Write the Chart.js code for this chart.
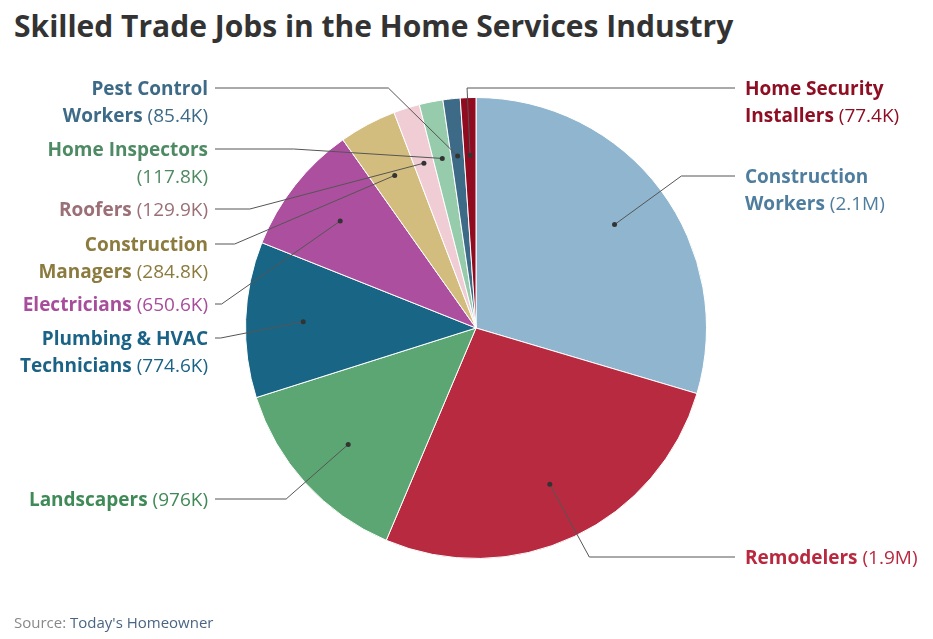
<!DOCTYPE html>
<html>
<head>
<meta charset="utf-8">
<script src="https://cdn.jsdelivr.net/npm/chart.js@4"></script>
<style>
  html, body { margin: 0; padding: 0; background: #fff; }
  body { width: 933px; height: 639px; position: relative; overflow: hidden; font-family: "Open Sans", sans-serif; }
  #title { position: absolute; left: 14px; top: 6px; margin: 0; font-size: 30px; font-weight: 700; color: #333; white-space: nowrap; line-height: 40px; }
  #source { position: absolute; left: 14px; top: 611px; font-size: 15px; color: #888; line-height: 22px; }
  #source span { color: #4a6584; }
  #wrap { position: absolute; left: 0; top: 0; width: 933px; height: 639px; }
</style>
</head>
<body>
<h1 id="title">Skilled Trade Jobs in the Home Services Industry</h1>
<div id="wrap"><canvas id="pie"></canvas></div>
<div id="source">Source: <span>Today's Homeowner</span></div>
<script>
"use strict";

// jobs, in thousands
const categories = [
  "Construction Workers", "Remodelers", "Landscapers", "Plumbing & HVAC Technicians",
  "Electricians", "Construction Managers", "Roofers", "Home Inspectors",
  "Pest Control Workers", "Home Security Installers",
];
const values = [2100, 1900, 976, 774.6, 650.6, 284.8, 129.9, 117.8, 85.4, 77.4];
const valueLabels = ["2.1M", "1.9M", "976K", "774.6K", "650.6K", "284.8K", "129.9K", "117.8K", "85.4K", "77.4K"];

const sliceColors = [
  "#8fb5cf", "#b82a40", "#5ca674", "#186585", "#ad4f9f",
  "#d3bd7e", "#f0cdd5", "#96cbab", "#3d6a87", "#900b1f",
];
const textColors = [
  "#4f7d9e", "#b8293f", "#3f8a57", "#1b6386", "#a74d9c",
  "#8c7b3e", "#9b6f76", "#4e8a63", "#3d6a87", "#8e0e24",
];

// label layout: side, y of first line, how the name wraps (value text comes from valueLabels)
const labelLayout = [
  { side: "right", y: 178, lines: ["Construction", "Workers|"] },
  { side: "right", y: 559, lines: ["Remodelers|"] },
  { side: "left", y: 501, lines: ["Landscapers|"] },
  { side: "left", y: 340, lines: ["Plumbing & HVAC", "Technicians|"] },
  { side: "left", y: 306, lines: ["Electricians|"] },
  { side: "left", y: 246, lines: ["Construction", "Managers|"] },
  { side: "left", y: 211, lines: ["Roofers|"] },
  { side: "left", y: 151, lines: ["Home Inspectors", "|"] },
  { side: "left", y: 90, lines: ["Pest Control", "Workers|"] },
  { side: "right", y: 90, lines: ["Home Security", "Installers|"], vertical: true },
];

const FONT = '"Open Sans", sans-serif';
const FONT_SIZE = 19;
const LINE_GAP = 27;

const leaderLabels = {
  id: "leaderLabels",
  afterDraw(chart) {
    const ctx = chart.ctx;
    const meta = chart.getDatasetMeta(0);
    ctx.save();
    meta.data.forEach((arc, i) => {
      const lay = labelLayout[i];
      const p = arc.getProps(["x", "y", "startAngle", "endAngle", "outerRadius"], true);
      const mid = (p.startAngle + p.endAngle) / 2;
      const r = p.outerRadius;
      const dx = p.x + Math.cos(mid) * r * 0.75;
      const dy = p.y + Math.sin(mid) * r * 0.75;
      const ly = lay.y - 2;
      const R = r + 25;
      let ex;
      if (lay.vertical) {
        ex = dx - 3;
      } else {
        const h = Math.sqrt(Math.max(R * R - (ly - p.y) * (ly - p.y), 0));
        ex = lay.side === "right" ? p.x + h : p.x - h;
      }
      const endX = lay.side === "right" ? 735 : 215;

      ctx.strokeStyle = "#555";
      ctx.lineWidth = 1;
      ctx.beginPath();
      ctx.moveTo(dx, dy);
      ctx.lineTo(ex, ly);
      ctx.lineTo(endX, ly);
      ctx.stroke();

      ctx.fillStyle = "#333";
      ctx.beginPath();
      ctx.arc(dx, dy, 2.5, 0, Math.PI * 2);
      ctx.fill();

      ctx.textBaseline = "middle";
      ctx.textAlign = "left";
      ctx.fillStyle = textColors[i];
      lay.lines.forEach((line, k) => {
        const y = lay.y + k * LINE_GAP;
        let bold = line, reg = "";
        if (line.endsWith("|")) {
          bold = line.slice(0, -1);
          reg = (bold ? " " : "") + "(" + valueLabels[i] + ")";
        }
        ctx.font = "700 " + FONT_SIZE + "px " + FONT;
        const wb = ctx.measureText(bold).width;
        ctx.font = "400 " + FONT_SIZE + "px " + FONT;
        const wr = ctx.measureText(reg).width;
        const x = lay.side === "right" ? 745 : 208 - wb - wr;
        ctx.font = "700 " + FONT_SIZE + "px " + FONT;
        ctx.fillText(bold, x, y);
        ctx.font = "400 " + FONT_SIZE + "px " + FONT;
        ctx.fillText(reg, x + wb, y);
      });
    });
    ctx.restore();
  },
};

new Chart(document.getElementById("pie"), {
  type: "pie",
  data: {
    labels: categories,
    datasets: [{
      data: values,
      backgroundColor: sliceColors,
      borderColor: "#fff",
      borderWidth: 1,
    }],
  },
  options: {
    responsive: true,
    maintainAspectRatio: false,
    animation: false,
    layout: { padding: { left: 245, right: 226, top: 97, bottom: 80 } },
    plugins: {
      legend: { display: false },
      tooltip: { enabled: false },
    },
  },
  plugins: [leaderLabels],
});
</script>
</body>
</html>
